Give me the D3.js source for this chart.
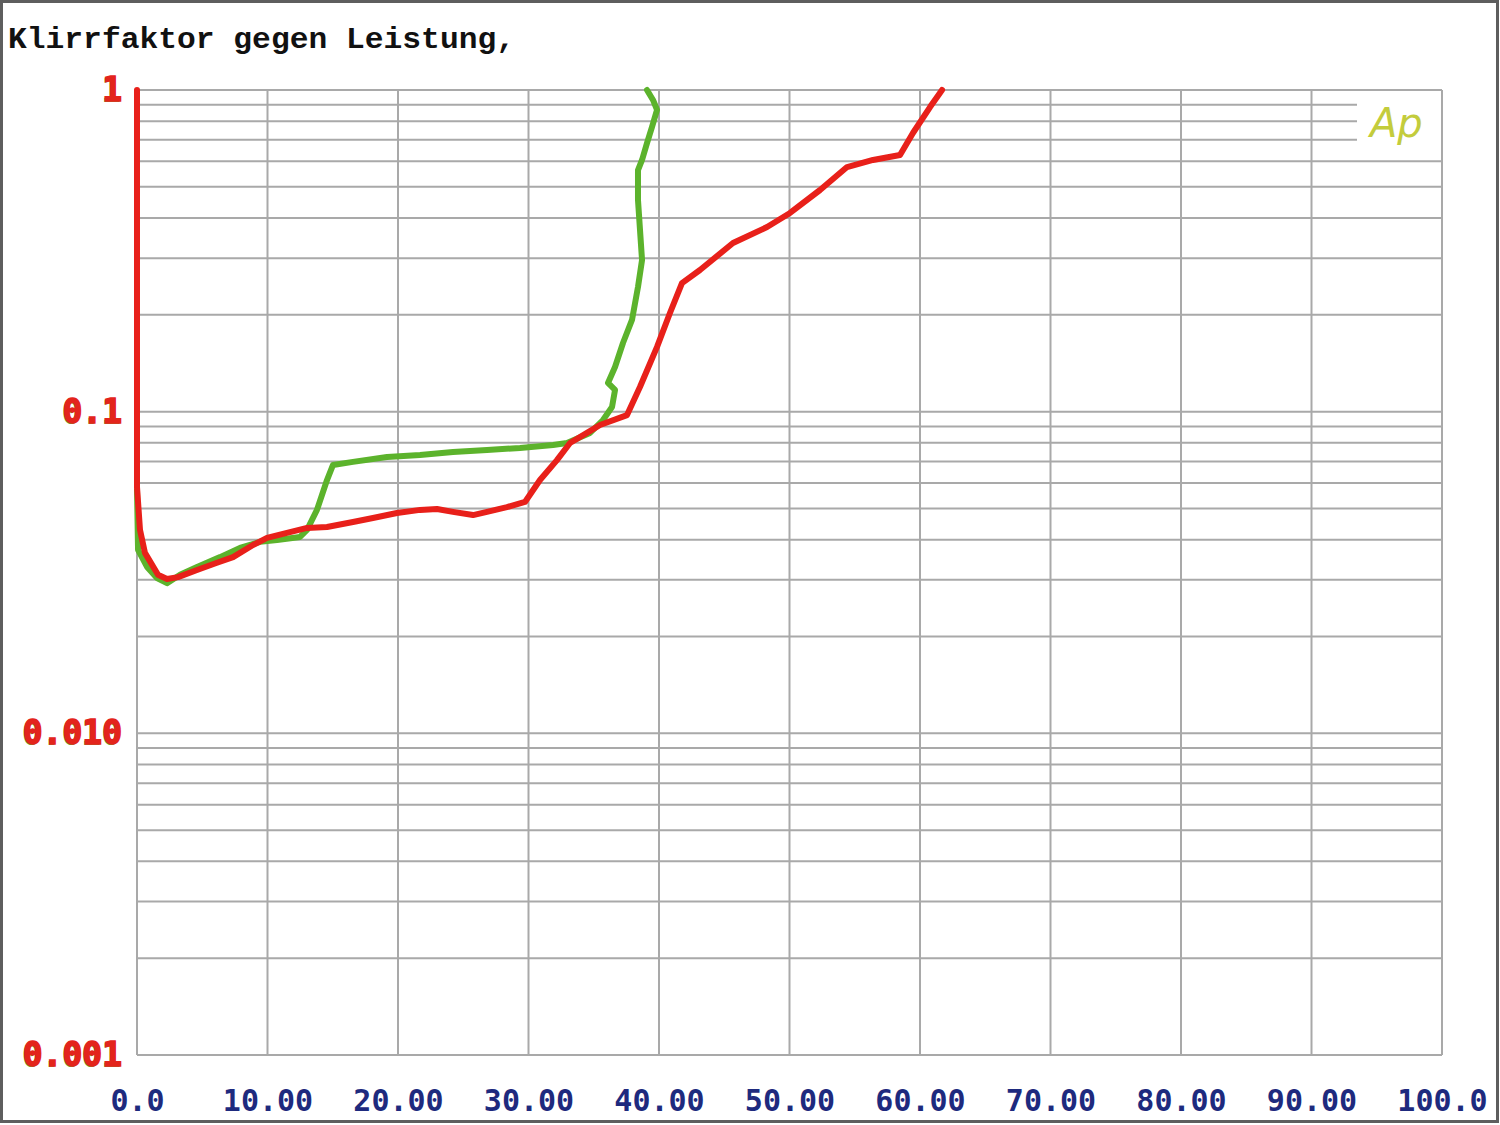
<!DOCTYPE html>
<html><head><meta charset="utf-8">
<script src="https://cdn.jsdelivr.net/npm/d3@7/dist/d3.min.js"></script>
<style>body{margin:0;background:#fff}svg{display:block}</style>
</head><body>
<svg id="c" width="1500" height="1125"></svg>
<script>
// ---- data ----
const title = "Klirrfaktor gegen Leistung,";
const xTicks = [0,10,20,30,40,50,60,70,80,90,100];
const xTickLabels = ["0.0","10.00","20.00","30.00","40.00","50.00","60.00","70.00","80.00","90.00","100.0"];
const yTicks = [1,0.1,0.01,0.001];
const yTickLabels = ["1","0.1","0.010","0.001"];
// red curve: power (W), THD
const redP = [0,0,0.23,0.61,1.61,2.30,3.14,4.60,6.13,7.36,8.89,9.96,11.49,13.03,14.56,16.55,18.08,19.92,21.69,22.99,24.21,25.75,26.82,28.35,29.73,30.88,32.18,33.18,34.48,35.48,37.55,38.54,39.85,40.84,41.76,43.14,45.67,48.28,50.04,52.34,54.41,56.40,58.47,59.46,60.77,61.69];
const redT = [1,0.0583,0.0429,0.0364,0.0311,0.0302,0.0306,0.0322,0.0339,0.0353,0.0385,0.0405,0.0420,0.0435,0.0438,0.0454,0.0467,0.0484,0.0495,0.0498,0.0488,0.0477,0.0488,0.0505,0.0524,0.0613,0.0707,0.0799,0.0859,0.0909,0.0976,0.1193,0.159,0.2026,0.251,0.2757,0.3344,0.375,0.4147,0.4888,0.576,0.606,0.628,0.735,0.885,1.0];
// green curve
const greenP = [0,0.08,0.77,1.53,2.30,3.30,4.60,6.36,7.89,9.43,10.73,12.49,13.03,13.79,14.56,15.02,16.55,19.16,21.69,24.21,26.82,29.35,31.88,32.95,34.71,35.71,36.40,36.63,36.09,36.63,37.24,37.93,38.39,38.70,38.39,38.39,38.70,39.08,39.46,39.85,39.54,39.08];
const greenT = [0.0571,0.0372,0.0329,0.0304,0.0293,0.0311,0.0329,0.0353,0.0377,0.0394,0.0399,0.0408,0.0429,0.0495,0.0613,0.0683,0.0698,0.0723,0.0733,0.0749,0.0760,0.0771,0.0788,0.0799,0.0859,0.0942,0.1034,0.1168,0.1228,0.1377,0.1635,0.1928,0.244,0.296,0.455,0.564,0.606,0.684,0.767,0.867,0.931,1.0];

// ---- layout ----
const svg = d3.select("#c");
const x = d3.scaleLinear().domain([0,100]).range([137,1442]);
const y = d3.scaleLog().domain([0.001,1]).range([1055,90]);

// outer frame
svg.append("rect").attr("x",1.5).attr("y",1.5).attr("width",1496).attr("height",1120)
  .attr("fill","none").attr("stroke","#5e5e5e").attr("stroke-width",3);

// title
svg.append("text").attr("x",8).attr("y",48).text(title)
  .attr("font-family","'Liberation Mono','DejaVu Sans Mono',monospace").attr("font-weight","bold")
  .attr("font-size",30).attr("textLength",507).attr("lengthAdjust","spacingAndGlyphs").attr("fill","#111");

// grid
const grid = svg.append("g").attr("stroke","#a9a9a9").attr("stroke-width",2);
const minor = [];
[1,0.1,0.01].forEach(d => { for (let k=1;k<=9;k++) minor.push(d*k/10); });
minor.push(1);
minor.forEach(v => {
  const endX = (v>=0.65 && v<0.95) ? 1357 : x(100);
  grid.append("line").attr("x1",x(0)).attr("x2",endX).attr("y1",y(v)).attr("y2",y(v));
});
xTicks.forEach(t => grid.append("line").attr("x1",x(t)).attr("x2",x(t)).attr("y1",y(1)).attr("y2",y(0.001)));

// Ap logo
svg.append("text").attr("x",1370).attr("y",137).text("Ap")
  .attr("font-family","'DejaVu Sans',sans-serif").attr("font-style","italic").attr("font-weight",300)
  .attr("font-size",40).attr("fill","#c3cc3c");

// axes
const xAxis = d3.axisBottom(x).tickValues(xTicks).tickFormat((d,i)=>xTickLabels[i]).tickSize(0).tickPadding(35);
const gx = svg.append("g").attr("transform",`translate(0,${y(0.001)})`).call(xAxis);
gx.select(".domain").remove();
gx.selectAll("text").attr("font-family","'DejaVu Sans Mono',monospace").attr("font-weight","bold").attr("font-size",30).attr("fill","#1e2a7e");

const yAxisShadow = d3.axisLeft(y).tickValues(yTicks).tickFormat((d,i)=>yTickLabels[i]).tickSize(0).tickPadding(15);
const gys = svg.append("g").attr("transform",`translate(${x(0)-1},1)`).call(yAxisShadow);
gys.select(".domain").remove();
gys.selectAll("text").attr("font-family","'DejaVu Sans Mono',monospace").attr("font-weight","bold").attr("font-size",33).attr("fill","#6aa830");

const yAxis = d3.axisLeft(y).tickValues(yTicks).tickFormat((d,i)=>yTickLabels[i]).tickSize(0).tickPadding(15);
const gy = svg.append("g").attr("transform",`translate(${x(0)},0)`).call(yAxis);
gy.select(".domain").remove();
gy.selectAll("text").attr("font-family","'DejaVu Sans Mono',monospace").attr("font-weight","bold").attr("font-size",33)
  .attr("fill","#e3241c").attr("stroke","#e3241c").attr("stroke-width",1.5);

// curves
const line = d3.line().x(d=>x(d[0])).y(d=>y(d[1]));
svg.append("path").datum(greenP.map((p,i)=>[p,greenT[i]])).attr("d",line)
  .attr("fill","none").attr("stroke","#5cb32c").attr("stroke-width",6).attr("stroke-linejoin","round").attr("stroke-linecap","round");
svg.append("path").datum(redP.map((p,i)=>[p,redT[i]])).attr("d",line)
  .attr("fill","none").attr("stroke","#e8201a").attr("stroke-width",6).attr("stroke-linejoin","round").attr("stroke-linecap","round");
</script>
</body></html>
